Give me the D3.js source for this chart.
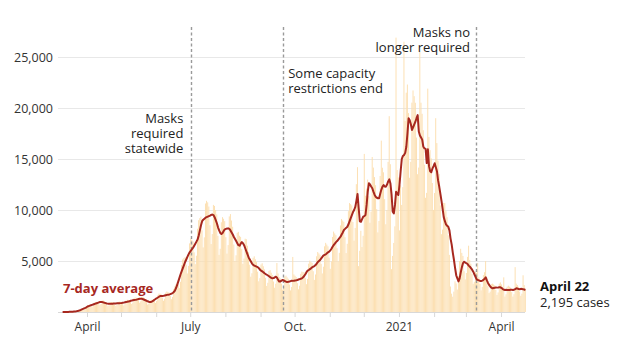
<!DOCTYPE html>
<html><head><meta charset="utf-8">
<script src="https://cdn.jsdelivr.net/npm/d3@7"></script>
<style>body{margin:0;background:#fff} svg{display:block;font-family:"Open Sans",sans-serif}</style>
</head><body><svg id="c" width="622" height="344"></svg>
<script>
// ---------- DATA ----------
const firstDay = "2020-03-10";
// daily reported cases, by month
const dailyMar20 = [2,4,6,9,9,8,12,23,30,40,50,50,49,72,138,192,230,275,270,245,320,529];
const dailyApr20 = [648,667,682,594,490,592,897,984,989,990,846,686,792,1116,1128,1035,957,756,574,648,932,978,943,913,756,592,680,978,1032,1001];
const dailyMay20 = [968,810,644,760,1127,1200,1185,1166,990,784,920,1346,1428,1392,1364,1143,910,1048,1484,1500,1380,1265,990,735,808,1127,1188,1208,1232,1080,896];
const dailyJun20 = [1080,1633,1800,1794,1727,1404,1106,1296,1898,2016,1955,1892,1575,1260,1480,2243,2520,2703,2915,2700,2345,2960,4600,5160,5290,5390,4635,3780,4520,6728];
const dailyJul20 = [7200,7073,6930,5850,4690,5520,8165,9000,9200,9350,8010,6335,7320,10638,10900,10753,10340,8505,6664,7640,10500,10400,10000,9570,7470,5600,6200,8798,9300,9143,8910];
const dailyAug20 = [7335,5726,6560,9373,9600,8970,8360,6615,5005,5560,7763,7860,7475,7370,6165,4725,5240,7188,7140,6498,5885,4635,3465,3800,5313,5460,5175,4895,3960,3010,3320];
const dailySep20 = [4658,4776,4485,4180,3348,2555,2864,4025,4104,3853,3630,2988,2380,2768,4800,3780,3427,3300,2772,2198,2480,3473,3564,3393,3256,2691,2121,2456,5400,3684];
const dailyOct20 = [3554,3421,2826,2226,2576,3749,3960,3910,3905,3330,2730,3240,4738,5040,4922,4818,3996,3150,3680,5463,5880,5750,5610,4725,3780,4440,6440,6780,6613,6435,5328];
const dailyNov20 = [4235,4960,7360,7884,7705,7535,6255,4970,5800,8487,9120,8970,8844,7335,5775,6688,9890,10680,10580,10450,8820,7000,8240,12535,14200,4500,6000,7965,6370,7472];
const dailyDec20 = [15500,11400,12100,12980,11358,8750,9840,15200,14160,13225,12430,10080,7805,8920,13340,16800,14145,13695,11070,8603,10000,14720,19200,14490,4200,5500,6769,8400,26900,13920,13190];
const dailyJan21 = [8000,12420,10500,12240,26500,18720,21500,22300,19500,13160,14720,20528,21720,21160,20515,17100,13510,14160,25500,20520,19435,17820,14445,11200,11680,21900,17160,15870,15070,12645,10010];
const dailyFeb21 = [11664,19000,16560,14835,13530,10440,7630,8080,10695,10680,9890,9295,7515,5600,2500,1800,1500,2000,3000,2800,2200,3500,5000,6200,5800,5500,4000,3200];
const dailyMar21 = [3824,5405,6500,5106,4730,3735,2765,2960,3968,3840,4800,3410,2745,2128,2464,3623,3900,5000,3410,2565,1855,2000,2737,2784,2703,2618,2160,1673,1920,2783,2904];
const dailyApr21 = [2703,2475,3400,1512,1736,2484,2580,2484,2398,1953,1512,1744,4400,2784,2645,2475,2007,1589,1800,3600,2640,2195];
// 7-day average, by month
const avgMar20 = [2,3,5,8,10,12,15,20,25,35,45,55,70,90,120,160,200,250,300,350,400,460];
const avgApr20 = [540,580,620,660,700,740,780,820,860,900,940,980,990,970,940,900,870,840,820,810,810,815,820,830,840,845,850,850,860,870];
const avgMay20 = [880,900,920,950,980,1000,1030,1060,1100,1120,1150,1170,1190,1210,1240,1270,1300,1310,1290,1250,1200,1150,1100,1050,1010,980,990,1050,1120,1200,1280];
const avgJun20 = [1350,1420,1500,1560,1570,1560,1580,1620,1650,1680,1700,1720,1750,1800,1850,1950,2100,2350,2650,3000,3350,3700,4000,4300,4600,4900,5150,5400,5650,5850];
const avgJul20 = [6000,6150,6300,6500,6700,6900,7100,7500,8000,8500,8900,9050,9150,9250,9300,9350,9400,9450,9520,9550,9500,9300,9000,8700,8300,8000,7750,7650,7750,7950,8100];
const avgAug20 = [8150,8180,8200,8150,8000,7800,7600,7350,7150,6950,6750,6550,6500,6700,6850,6750,6550,6250,5950,5650,5350,5150,4950,4750,4620,4550,4500,4450,4400,4300,4150];
const avgSep20 = [4050,3980,3900,3800,3720,3650,3580,3500,3420,3350,3300,3320,3400,3460,3350,3150,2980,3000,3080,3140,3100,3020,2970,2950,2960,2990,3030,3070,3050,3070];
const avgOct20 = [3090,3110,3140,3180,3220,3260,3300,3400,3550,3700,3900,4050,4120,4200,4280,4380,4440,4500,4600,4750,4900,5000,5100,5250,5400,5550,5600,5650,5750,5850,5920];
const avgNov20 = [6050,6200,6400,6570,6700,6850,6950,7100,7250,7380,7600,7800,8040,8150,8250,8360,8600,8900,9200,9500,9800,10000,10300,10900,11570,10200,8900,8850,9100,9340];
const avgDec20 = [9400,9510,10500,11800,12620,12500,12300,12130,11800,11500,11300,11200,11150,11150,11600,12000,12300,12450,12300,12290,12500,12800,13000,12600,11500,9830,9670,10500,11800,11600,11470];
const avgJan21 = [12500,13800,15000,15300,15400,15600,16200,17500,19000,18800,18400,17850,18100,18400,18650,19000,19300,17700,17300,17100,16900,16200,16050,16000,14600,15950,14300,13800,13700,14050,14300];
const avgFeb21 = [14580,14200,13800,12900,12300,11600,10900,10100,9300,8900,8600,8450,8350,8000,7200,6600,5800,5100,4300,3600,3300,3000,3300,3900,4400,4800,4930,4850];
const avgMar21 = [4780,4700,4550,4440,4300,4150,3950,3700,3450,3200,3140,3100,3050,3040,3080,3150,3250,3400,3100,2850,2650,2500,2380,2320,2350,2380,2400,2390,2400,2420,2420];
const avgApr21 = [2350,2250,2180,2160,2170,2160,2150,2160,2180,2170,2160,2180,2250,2320,2300,2250,2230,2270,2250,2220,2200,2160];

const yTickValues = [5000, 10000, 15000, 20000, 25000];
const xTickDates = ["2020-04-01","2020-05-01","2020-06-01","2020-07-01","2020-08-01","2020-09-01","2020-10-01","2020-11-01","2020-12-01","2021-01-01","2021-02-01","2021-03-01","2021-04-01"];
const xTickLabels = ["April","","","July","","","Oct.","","","2021","","","April"];
const eventDates = ["2020-07-02","2020-09-21","2021-03-10"];
const eventTexts = [["Masks","required","statewide"],["Some capacity","restrictions end"],["Masks no","longer required"]];
const seriesLabel = "7-day average";
const lastLabelDate = "April 22";
const lastLabelValue = "2,195 cases";

// ---------- BUILD ----------
const parse = d3.utcParse("%Y-%m-%d");
const daily = [].concat(dailyMar20,dailyApr20,dailyMay20,dailyJun20,dailyJul20,dailyAug20,dailySep20,dailyOct20,dailyNov20,dailyDec20,dailyJan21,dailyFeb21,dailyMar21,dailyApr21);
const avg = [].concat(avgMar20,avgApr20,avgMay20,avgJun20,avgJul20,avgAug20,avgSep20,avgOct20,avgNov20,avgDec20,avgJan21,avgFeb21,avgMar21,avgApr21);
const t0 = parse(firstDay);
const data = daily.map((v,i) => ({date: d3.utcDay.offset(t0, i), cases: v, avg: avg[i]}));

const svg = d3.select("#c");
const LEFT = 58, RIGHT = 525, BASE = 312, TOP = 57;
const x = d3.scaleUtc().domain([parse("2020-03-06"), parse("2021-04-23")]).range([57.5, 526]);
const y = d3.scaleLinear().domain([0, 25000]).range([BASE, TOP]);
const bw = x(d3.utcDay.offset(t0,1)) - x(t0);

// gridlines + y labels
const yAxis = svg.append("g").attr("transform", `translate(${LEFT},0)`)
  .call(d3.axisLeft(y).tickValues(yTickValues).tickSize(-(RIGHT-LEFT)).tickPadding(5).tickFormat(d3.format(",")));
yAxis.select(".domain").remove();
yAxis.selectAll(".tick line").attr("stroke", "#e8e8e8").attr("stroke-width", 1.2);
yAxis.selectAll(".tick text").attr("fill", "#333").attr("font-size", 12.5).attr("font-family", "Open Sans");

// bars
svg.append("g").selectAll("rect").data(data).join("rect")
  .attr("x", d => x(d.date))
  .attr("width", bw - 0.2)
  .attr("y", d => y(d.cases))
  .attr("height", d => BASE - y(d.cases))
  .attr("fill", "#fcdeae");

// x axis
const xAxis = svg.append("g").attr("transform", `translate(0,${BASE})`)
  .call(d3.axisBottom(x).tickValues(xTickDates.map(parse)).tickSize(5).tickPadding(5)
    .tickFormat((d,i) => xTickLabels[i]));
xAxis.select(".domain").attr("stroke", "#d8d8d8").attr("d", `M${LEFT},0.5H${RIGHT}`);
xAxis.selectAll(".tick line").attr("stroke", "#d8d8d8");
xAxis.selectAll(".tick text").attr("fill", "#333").attr("font-size", 12).attr("font-family", "Open Sans");

// event lines
const evG = svg.append("g");
eventDates.forEach((ds) => {
  const ex = Math.round(x(parse(ds))) + 0.5;
  evG.append("line").attr("x1", ex).attr("x2", ex).attr("y1", 27).attr("y2", BASE)
    .attr("stroke", "#9a9a9a").attr("stroke-width", 1.4).attr("stroke-dasharray", "3,2.5");
});

// 7-day average line
svg.append("path").datum(data)
  .attr("fill", "none").attr("stroke", "#a7281f").attr("stroke-width", 2)
  .attr("stroke-linejoin", "round")
  .attr("d", d3.line().x(d => x(d.date) + bw/2).y(d => y(d.avg)));

// event labels (layout: anchor, x offset from line, first-line centre y), one text per line
const evLayout = [{anchor:"end", dx:-8, cy:118}, {anchor:"start", dx:5, cy:73}, {anchor:"end", dx:-6, cy:32}];
eventDates.forEach((ds, k) => {
  const ex = x(parse(ds));
  const L = evLayout[k];
  eventTexts[k].forEach((line, j) => {
    svg.append("text").attr("text-anchor", L.anchor).attr("font-size", 13)
      .attr("fill", "#222").attr("font-family", "Open Sans")
      .attr("x", ex + L.dx).attr("y", L.cy + j*15).attr("dy", "0.35em").text(line);
  });
});

// series label
svg.append("text").attr("x", 63).attr("y", 288).attr("dy", "0.35em")
  .attr("font-size", 13).attr("font-weight", 700).attr("fill", "#a7281f").text(seriesLabel);

// last value label
svg.append("text").attr("x", 540).attr("y", 286).attr("dy", "0.35em")
  .attr("font-size", 13).attr("font-weight", 700).attr("fill", "#111").text(lastLabelDate);
svg.append("text").attr("x", 540).attr("y", 302).attr("dy", "0.35em")
  .attr("font-size", 13).attr("fill", "#222").text(lastLabelValue);
</script></body></html>
